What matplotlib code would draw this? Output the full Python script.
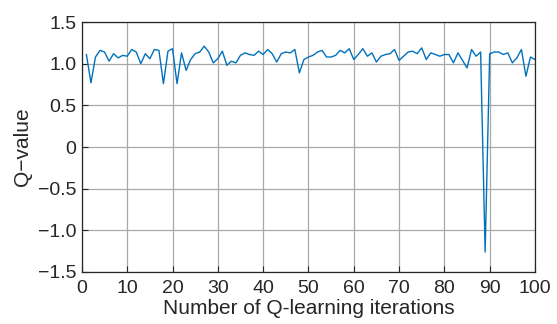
import matplotlib
matplotlib.use('Agg')
import matplotlib.pyplot as plt
from matplotlib.ticker import FixedLocator

plt.rcParams['font.family'] = ['Liberation Sans', 'DejaVu Sans']

iterations = list(range(1, 101))
q_values = [
    1.11, 0.77, 1.08, 1.16, 1.14, 1.03, 1.12, 1.07, 1.10, 1.09,
    1.17, 1.14, 1.00, 1.12, 1.06, 1.17, 1.16, 0.76, 1.15, 1.18,
    0.76, 1.13, 0.92, 1.05, 1.12, 1.14, 1.21, 1.14, 1.01, 1.06,
    1.15, 0.98, 1.03, 1.01, 1.10, 1.13, 1.11, 1.10, 1.15, 1.11,
    1.17, 1.12, 1.02, 1.12, 1.14, 1.13, 1.17, 0.89, 1.05, 1.08,
    1.10, 1.14, 1.16, 1.08, 1.08, 1.10, 1.16, 1.13, 1.18, 1.05,
    1.11, 1.18, 1.09, 1.13, 1.02, 1.09, 1.11, 1.12, 1.17, 1.04,
    1.09, 1.14, 1.15, 1.12, 1.19, 1.05, 1.13, 1.11, 1.09, 1.11,
    1.11, 1.01, 1.13, 1.04, 0.95, 1.17, 1.09, 1.14, -1.26, 1.12,
    1.14, 1.14, 1.11, 1.13, 1.01, 1.07, 1.17, 0.85, 1.08, 1.05,
]
xticks = [0, 10, 20, 30, 40, 50, 60, 70, 80, 90, 100]
yticks = [-1.5, -1.0, -0.5, 0, 0.5, 1.0, 1.5]
ytick_labels = ['\u22121.5', '\u22121.0', '\u22120.5', '0', '0.5', '1.0', '1.5']

fig = plt.figure(figsize=(5.57, 3.24), dpi=100)
ax = fig.add_axes([0.147, 0.1605, 0.8135, 0.7715])
ax.plot(iterations, q_values, color='#0072BD', linewidth=1.0)

ax.set_xlim(0, 100)
ax.set_ylim(-1.5, 1.5)
ax.xaxis.set_major_locator(FixedLocator(xticks))
ax.set_xticklabels([str(t) for t in xticks])
ax.yaxis.set_major_locator(FixedLocator(yticks))
ax.set_yticklabels(ytick_labels)
ax.grid(True, color='#a8a8a8', linewidth=0.9)
ax.tick_params(direction='in', length=4, width=0.8, labelsize=14, colors='#262626', pad=4)
ax.tick_params(axis='x', pad=6)
for s in ax.spines.values():
    s.set_color('#262626')
    s.set_linewidth(0.9)

ax.set_xlabel('Number of Q-learning iterations', fontsize=15, color='#262626', labelpad=1)
ax.set_ylabel('Q\u2212value', fontsize=15, color='#262626', labelpad=4)

fig.savefig('out.png', dpi=100)
